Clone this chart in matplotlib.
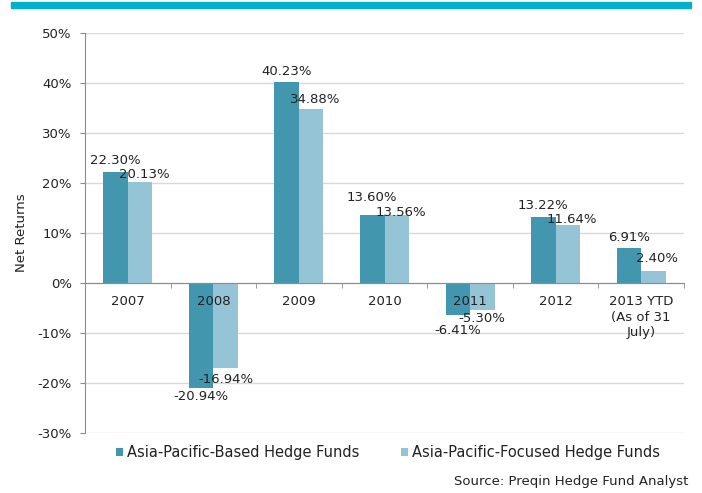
import matplotlib.pyplot as plt
from matplotlib.patches import Rectangle
from matplotlib.ticker import FuncFormatter
import numpy as np

categories = ['2007', '2008', '2009', '2010', '2011', '2012', '2013 YTD\n(As of 31\nJuly)']
based = [22.30, -20.94, 40.23, 13.60, -6.41, 13.22, 6.91]
focused = [20.13, -16.94, 34.88, 13.56, -5.30, 11.64, 2.40]
series_names = ['Asia-Pacific-Based Hedge Funds', 'Asia-Pacific-Focused Hedge Funds']

dark = '#4297AE'
light = '#95C4D6'
txt = '#222222'
plt.rcParams['font.family'] = 'DejaVu Sans'

# gap (px) between bar end and its label, Excel pushed some of them around
gap_based = [5, 2, 4, 11, 9, 5, 4]
gap_focused = [1, 5, 3, -4, 3, -1, 6]
PT = 0.72  # points per pixel at 100 dpi

fig = plt.figure(figsize=(7.02, 4.93), dpi=100)
ax = fig.add_axes([85 / 702, 1 - 433 / 493, 599 / 702, 400 / 493])

# cyan strip along the top
fig.patches.append(Rectangle((11 / 702, 1 - 8 / 493), 680 / 702, 6 / 493,
                             transform=fig.transFigure, color='#00B0CC', zorder=0))

x = np.arange(len(categories))
w = 0.286
b1 = ax.bar(x - w / 2, based, w, color=dark, label=series_names[0], zorder=3)
b2 = ax.bar(x + w / 2, focused, w, color=light, label=series_names[1], zorder=3)

fs = 9.5
for i in range(len(categories)):
    for v, xc, dx, g in [(based[i], x[i] - w / 2, 0, gap_based[i]),
                         (focused[i], x[i] + w / 2, 4, gap_focused[i])]:
        if v >= 0:
            ax.annotate(f'{v:.2f}%', (xc, v), xytext=(dx * PT, g * PT), textcoords='offset points',
                        ha='center', va='bottom', fontsize=fs, color=txt, zorder=5)
        else:
            ax.annotate(f'{v:.2f}%', (xc, v), xytext=(0, -g * PT), textcoords='offset points',
                        ha='center', va='top', fontsize=fs, color=txt, zorder=5)

# category names sit on top of the bars
for i, c in enumerate(categories):
    ax.annotate(c, (x[i], 0), xytext=(0, -12 * PT), textcoords='offset points',
                ha='center', va='top', fontsize=fs, color=txt, linespacing=1.25, zorder=6)

ax.set_xlim(-0.5, len(categories) - 0.5)
ax.set_ylim(-30, 50)
ax.set_yticks(range(-30, 51, 10))
ax.yaxis.set_major_formatter(FuncFormatter(lambda v, p: f'{v:.0f}%'))
ax.grid(axis='y', color='#D9D9D9', linewidth=1, zorder=0)
ax.set_axisbelow(True)

ax.spines['top'].set_visible(False)
ax.spines['right'].set_visible(False)
ax.spines['bottom'].set_position(('data', 0))
ax.spines['bottom'].set_color('#8C8C8C')
ax.spines['bottom'].set_zorder(4)
ax.spines['left'].set_color('#8C8C8C')

ax.set_xticks([])
ax.set_xticks(np.arange(len(categories) + 1) - 0.5, minor=True)
ax.tick_params(axis='x', which='minor', length=3.6, color='#8C8C8C', direction='out')
ax.tick_params(axis='y', length=3.6, color='#8C8C8C', labelsize=fs, labelcolor=txt, pad=6)

ax.set_ylabel('Net Returns', fontsize=fs, color=txt, labelpad=7)

fig.legend(handles=[b1, b2], labels=series_names, loc='center', bbox_to_anchor=(388 / 702, 1 - 453 / 493),
           ncol=2, frameon=False, fontsize=10.5, handlelength=0.5, handleheight=0.5,
           handletextpad=0.3, columnspacing=2.8, labelcolor=txt)

fig.text(688 / 702, 1 - 482 / 493, 'Source: Preqin Hedge Fund Analyst', ha='right', va='center',
         fontsize=fs, color=txt)

fig.savefig('out.png', dpi=100)
